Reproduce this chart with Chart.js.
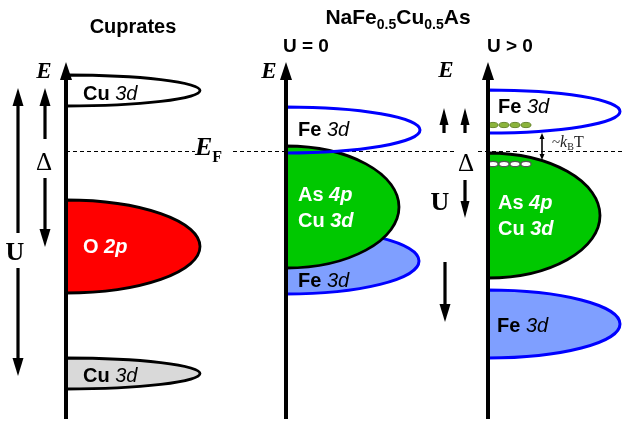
<!DOCTYPE html>
<html><head><meta charset="utf-8">
<script src="https://cdn.jsdelivr.net/npm/chart.js@4.4.1/dist/chart.umd.min.js"></script>
<style>html,body{margin:0;padding:0;background:#fff;}canvas{display:block;}</style>
</head><body>
<canvas id="c" width="622" height="423"></canvas>
<script>
// ---- data (x: horizontal position / DOS units, y: energy with E_F = 0) ----
const panelAxes = [66, 286, 488];
const panelTitles = ['U = 0', 'U > 0'];
const axisBottom = -268, axisTop = 89;
// bands: [panel, centerEnergy, halfWidthEnergy, dosExtent]
const bandNames   = ['Cu 3d', 'O 2p', 'Cu 3d', 'Fe 3d', 'As 4p / Cu 3d', 'Fe 3d', 'Fe 3d', 'As 4p / Cu 3d', 'Fe 3d'];
const bandPanel   = [0, 0, 0, 1, 1, 1, 2, 2, 2];
const bandCenter  = [60.5, -95.5, -222.5, 21, -56, -110, 39.5, -64.5, -173];
const bandHalf    = [15.5, 46.5, 15.5, 23, 61, 33, 21.5, 62.5, 34];
const bandDos     = [134, 134, 134, 134, 113, 133, 132, 112, 132];
// electrons (filled) and holes (empty) in panel 3
const carrierX = [493, 504, 515, 526];
const electronE = 26, holeE = -13;
// arrows: [x, fromE, toE]
const arrowX    = [18, 18, 45, 45, 444, 465, 465, 445];
const arrowFrom = [-82, -117, 12, -27, 18, 18, -29, -111];
const arrowTo   = [63, -225, 63, -96, 43, 43, -67, -171];
const kbtArrow  = [542, 18, -9];
const fermiSegments = [[66, 195], [233, 455], [478, 622]];

const SANS = "'Liberation Sans', Arial, Helvetica, sans-serif";
const SERIF = "'Liberation Serif', 'Times New Roman', serif";

function drawRuns(ctx, runs, x, y, align) {
  let w = 0;
  runs.forEach(r => { ctx.font = r.f; r.w = ctx.measureText(r.t).width; w += r.w; });
  let cx = align === 'center' ? x - w / 2 : x;
  runs.forEach(r => {
    ctx.font = r.f; ctx.fillStyle = r.c || '#000';
    ctx.textAlign = 'left'; ctx.textBaseline = 'alphabetic';
    ctx.fillText(r.t, cx, y + (r.dy || 0));
    cx += r.w;
  });
}

const diagram = {
  id: 'diagram',
  afterDraw(chart) {
    const ctx = chart.ctx, sx = chart.scales.x, sy = chart.scales.y;
    const X = v => sx.getPixelForValue(v), Y = e => sy.getPixelForValue(e);
    ctx.save();
    ctx.fillStyle = '#fff'; ctx.fillRect(0, 0, chart.width, chart.height);

    // Fermi level dashed line
    ctx.strokeStyle = '#000'; ctx.lineWidth = 1; ctx.setLineDash([4, 3]);
    fermiSegments.forEach(s => { ctx.beginPath(); ctx.moveTo(X(s[0]), Math.round(Y(0)) + 0.5); ctx.lineTo(X(s[1]), Math.round(Y(0)) + 0.5); ctx.stroke(); });
    ctx.setLineDash([]);

    function halfEllipse(i) {
      const ax = X(panelAxes[bandPanel[i]]);
      const cy = Y(bandCenter[i]);
      const ry = Math.abs(Y(bandCenter[i] + bandHalf[i]) - cy);
      const rx = X(panelAxes[bandPanel[i]] + bandDos[i]) - ax;
      ctx.beginPath(); ctx.ellipse(ax, cy, rx, ry, 0, -Math.PI / 2, Math.PI / 2); ctx.closePath();
    }
    function band(i, fill, stroke, lw, doFill, doStroke) {
      halfEllipse(i);
      if (doFill !== false) { ctx.fillStyle = fill; ctx.fill(); }
      if (doStroke !== false) { ctx.strokeStyle = stroke; ctx.lineWidth = lw; ctx.stroke(); }
    }
    const LB = '#7f9fff', BL = '#0000ff', GR = '#00c800';
    // panel 1
    band(0, '#fff', '#000', 2.8);
    band(1, '#ff0000', '#000', 2.8);
    band(2, '#d9d9d9', '#000', 2.8);
    // panel 2
    band(5, LB, BL, 3);
    band(3, '#fff', BL, 3, true, false);
    band(4, GR, '#000', 2.8);
    band(3, '#fff', BL, 3, false, true);
    // panel 3
    band(8, LB, BL, 3);
    band(6, '#fff', BL, 3);
    band(7, GR, '#000', 2.8);

    // carriers
    carrierX.forEach(cx => {
      ctx.beginPath(); ctx.ellipse(X(cx), Y(electronE), 5, 2.6, 0, 0, 2 * Math.PI);
      ctx.fillStyle = '#8cb43c'; ctx.fill(); ctx.strokeStyle = '#5f7f25'; ctx.lineWidth = 0.9; ctx.stroke();
      ctx.beginPath(); ctx.ellipse(X(cx), Y(holeE), 5, 2.6, 0, 0, 2 * Math.PI);
      ctx.fillStyle = '#fff'; ctx.fill(); ctx.strokeStyle = '#555'; ctx.lineWidth = 1.1; ctx.stroke();
    });

    // arrow helper
    function arrow(x, y0, y1, lw, hl, hw, headAtStart) {
      const dir = y1 < y0 ? -1 : 1;
      ctx.strokeStyle = '#000'; ctx.fillStyle = '#000'; ctx.lineWidth = lw;
      ctx.beginPath(); ctx.moveTo(x, y0 + (headAtStart ? dir * hl * 0.8 : 0)); ctx.lineTo(x, y1 - dir * hl * 0.8); ctx.stroke();
      const head = (ty, d) => { ctx.beginPath(); ctx.moveTo(x, ty); ctx.lineTo(x - hw, ty - d * hl); ctx.lineTo(x + hw, ty - d * hl); ctx.closePath(); ctx.fill(); };
      head(y1, dir);
      if (headAtStart) head(y0, -dir);
    }
    for (let i = 0; i < arrowX.length; i++) {
      const small = i >= 4 && i <= 6;
      arrow(X(arrowX[i]), Y(arrowFrom[i]), Y(arrowTo[i]), 3.2, small ? 17 : 18, small ? 4.5 : 5.5, false);
    }
    arrow(X(kbtArrow[0]), Y(kbtArrow[1]), Y(kbtArrow[2]), 1.6, 6, 2.5, true);

    // axes
    panelAxes.forEach(ax => arrow(X(ax), Y(axisBottom), Y(axisTop), 4, 18, 6, false));

    // texts
    const B20 = 'bold 20px ' + SANS, I20 = 'italic 20px ' + SANS, BI20 = 'bold italic 20px ' + SANS;
    drawRuns(ctx, [{t: 'Cuprates', f: B20}], 133, 33, 'center');
    drawRuns(ctx, [
      {t: 'NaFe', f: 'bold 21px ' + SANS}, {t: '0.5', f: 'bold 14px ' + SANS, dy: 5},
      {t: 'Cu', f: 'bold 21px ' + SANS}, {t: '0.5', f: 'bold 14px ' + SANS, dy: 5},
      {t: 'As', f: 'bold 21px ' + SANS}], 398, 24, 'center');
    drawRuns(ctx, [{t: panelTitles[0], f: 'bold 19px ' + SANS}], 283, 52);
    drawRuns(ctx, [{t: panelTitles[1], f: 'bold 19px ' + SANS}], 487, 52);
    const EF = 'bold italic 23px ' + SERIF;
    [[44, 78], [269, 78], [446, 77]].forEach(p => drawRuns(ctx, [{t: 'E', f: EF}], p[0], p[1], 'center'));
    drawRuns(ctx, [{t: 'E', f: 'bold italic 26px ' + SERIF}, {t: 'F', f: 'bold 16px ' + SERIF, dy: 7}], 195, 155);
    drawRuns(ctx, [{t: 'U', f: 'bold 26px ' + SERIF}], 15, 260, 'center');
    drawRuns(ctx, [{t: 'U', f: 'bold 26px ' + SERIF}], 440, 210, 'center');
    drawRuns(ctx, [{t: '\u0394', f: '25px ' + SERIF}], 44, 170, 'center');
    drawRuns(ctx, [{t: '\u0394', f: '25px ' + SERIF}], 466, 171, 'center');
    drawRuns(ctx, [{t: '~', f: '15px ' + SERIF, c: '#222'}, {t: 'k', f: 'italic 16px ' + SERIF, c: '#222'},
      {t: 'B', f: '10px ' + SERIF, dy: 3, c: '#222'}, {t: 'T', f: '16px ' + SERIF, c: '#222'}], 552, 147);

    const lab = (a, b, x, y, white) => drawRuns(ctx, [
      {t: a + ' ', f: B20, c: white ? '#fff' : '#000'},
      {t: b, f: white ? BI20 : I20, c: white ? '#fff' : '#000'}], x, y);
    lab('Cu', '3d', 83, 100);
    lab('O', '2p', 83, 253, true);
    lab('Cu', '3d', 83, 382);
    lab('Fe', '3d', 298, 136);
    lab('As', '4p', 298, 201, true);
    lab('Cu', '3d', 298, 227, true);
    lab('Fe', '3d', 298, 287);
    lab('Fe', '3d', 498, 113);
    lab('As', '4p', 498, 209, true);
    lab('Cu', '3d', 498, 235, true);
    lab('Fe', '3d', 497, 332);
    ctx.restore();
  }
};

new Chart(document.getElementById('c'), {
  type: 'scatter',
  data: { datasets: [] },
  options: {
    responsive: false, animation: false, devicePixelRatio: 1,
    layout: { padding: 0 },
    plugins: { legend: { display: false }, tooltip: { enabled: false } },
    scales: {
      x: { type: 'linear', min: 0, max: 622, display: false },
      y: { type: 'linear', min: -272, max: 151, display: false }
    }
  },
  plugins: [diagram]
});
</script>
</body></html>
